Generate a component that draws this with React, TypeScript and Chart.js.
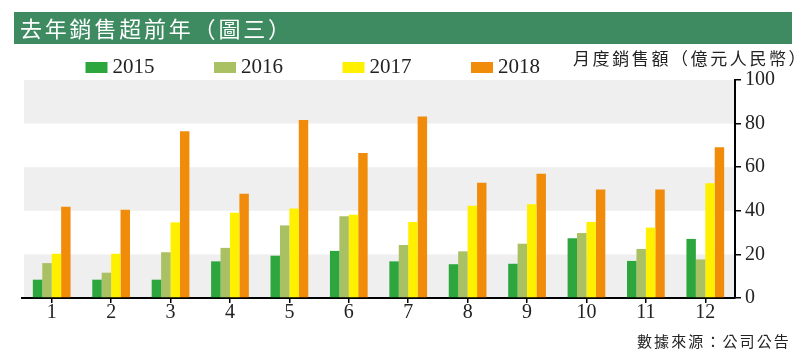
import React, { useEffect, useRef } from "react";
import { Chart, registerables } from "chart.js";

Chart.register(...registerables);

const months = ["1", "2", "3", "4", "5", "6", "7", "8", "9", "10", "11", "12"];
const seriesNames = ["2015", "2016", "2017", "2018"];
const sales2015 = [8.4, 8.4, 8.4, 16.8, 19.4, 21.6, 16.8, 15.5, 15.7, 27.4, 17, 27.1];
const sales2016 = [16, 11.6, 21, 23, 33.3, 37.5, 24.3, 21.4, 24.9, 29.8, 22.5, 17.7];
const sales2017 = [20.3, 20.3, 34.7, 39.1, 41, 38.2, 34.9, 42.3, 43, 34.9, 32.3, 52.6];
const sales2018 = [41.9, 40.5, 76.5, 47.8, 81.7, 66.5, 83.3, 52.9, 57, 49.8, 49.8, 69.1];
const bandEdges = [0, 20, 40, 60, 80, 100];

const colors = ["#2ea63e", "#a9c162", "#fff000", "#f08c0a"];
const titleText = "去年銷售超前年（圖三）";
const axisTitle = "月度銷售額（億元人民幣）";
const sourceText = "數據來源：公司公告";

const CJK = '"Noto Sans CJK TC", "Noto Sans CJK SC", sans-serif';
const SERIF = '"Liberation Serif", "DejaVu Serif", serif';

function drawSpaced(ctx: CanvasRenderingContext2D, text: string, x: number, y: number, pitch: number) {
  const chars = Array.from(text);
  chars.forEach((c, i) => ctx.fillText(c, x + i * pitch, y));
}

const decorPlugin = {
  id: "decor",
  beforeDraw(chart: any) {
    const ctx = chart.ctx as CanvasRenderingContext2D;
    const { left, right } = chart.chartArea;
    const y = chart.scales.y;
    ctx.save();
    ctx.fillStyle = "#ffffff";
    ctx.fillRect(0, 0, chart.width, chart.height);
    for (let i = 0; i < bandEdges.length - 1; i++) {
      if (i % 2 === 0) {
        const top = y.getPixelForValue(bandEdges[i + 1]);
        const bot = y.getPixelForValue(bandEdges[i]);
        ctx.fillStyle = "#efefef";
        ctx.fillRect(left + 2, top, right - left - 2, bot - top);
      }
    }
    ctx.fillStyle = "#3e8b62";
    ctx.fillRect(14, 12, 778, 32);
    ctx.fillStyle = "#ffffff";
    ctx.font = `22px ${CJK}`;
    ctx.textBaseline = "middle";
    ctx.textAlign = "left";
    drawSpaced(ctx, titleText, 20, 29, 24.8);
    ctx.restore();
  },
  afterDraw(chart: any) {
    const ctx = chart.ctx as CanvasRenderingContext2D;
    ctx.save();
    const startX = 85.5;
    const pitch = 128.5;
    chart.data.datasets.forEach((ds: any, i: number) => {
      const x = startX + i * pitch;
      ctx.fillStyle = ds.backgroundColor;
      ctx.fillRect(x, 62, 22, 11);
      ctx.fillStyle = "#222";
      ctx.font = `21px ${SERIF}`;
      ctx.textBaseline = "middle";
      ctx.textAlign = "left";
      ctx.fillText(ds.label, x + 27, 67);
    });
    ctx.fillStyle = "#222";
    ctx.font = `17px ${CJK}`;
    ctx.textBaseline = "middle";
    ctx.textAlign = "left";
    drawSpaced(ctx, axisTitle, 573, 59, 19.6);
    ctx.font = `15px ${CJK}`;
    drawSpaced(ctx, sourceText, 637, 341, 17.1);
    ctx.restore();
  },
};

export default function App() {
  const ref = useRef<HTMLCanvasElement | null>(null);
  useEffect(() => {
    if (!ref.current) return;
    const data = [sales2015, sales2016, sales2017, sales2018];
    const chart = new Chart(ref.current, {
      type: "bar",
      data: {
        labels: months,
        datasets: seriesNames.map((name, i) => ({
          label: name,
          data: data[i],
          backgroundColor: colors[i],
          borderWidth: 0,
          categoryPercentage: 0.635,
          barPercentage: 1,
        })),
      },
      options: {
        responsive: false,
        animation: false,
        devicePixelRatio: 1,
        layout: { padding: { left: 22, top: 80, right: 0, bottom: 0 } },
        plugins: {
          legend: { display: false },
          title: { display: false },
          tooltip: { enabled: false },
        },
        scales: {
          x: {
            offset: true,
            grid: {
              display: true,
              drawOnChartArea: false,
              drawTicks: true,
              tickLength: 5,
              color: "#000",
              offset: false,
              lineWidth: 1.5,
            },
            border: { display: true, color: "#000", width: 2 },
            ticks: {
              color: "#222",
              padding: 0,
              font: { family: SERIF, size: 20, lineHeight: 1 },
            },
            afterFit: (s: any) => {
              s.height = 59;
            },
          },
          y: {
            position: "right",
            min: 0,
            max: 100,
            grid: {
              display: true,
              drawOnChartArea: false,
              drawTicks: true,
              tickLength: 6,
              color: "#000",
              lineWidth: 1.5,
            },
            border: { display: true, color: "#000", width: 2 },
            ticks: {
              stepSize: 20,
              color: "#222",
              padding: 4,
              font: { family: SERIF, size: 20, lineHeight: 1 },
            },
            afterFit: (s: any) => {
              s.width = 65;
            },
          },
        },
      },
      plugins: [decorPlugin],
    } as any);
    return () => chart.destroy();
  }, []);
  return (
    <div style={{ position: "absolute", left: 0, top: 0, width: 800, height: 357 }}>
      <canvas ref={ref} width={800} height={357} style={{ display: "block" }} />
    </div>
  );
}
